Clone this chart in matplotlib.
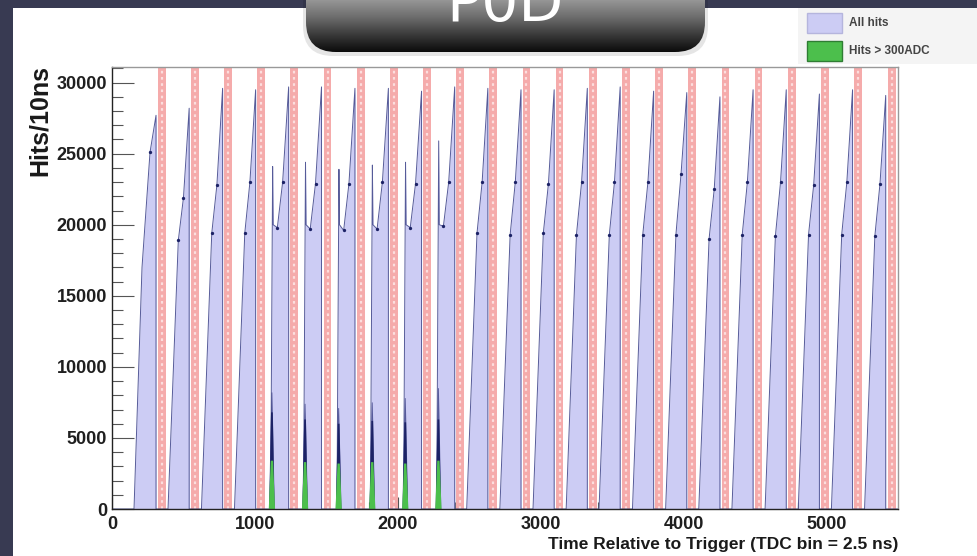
"""
P0D hit timing plot: all hits vs hits above 300 ADC, with bunch-gap bands.
"""

import matplotlib

matplotlib.use("Agg")
import matplotlib.pyplot as plt
import numpy as np
from matplotlib.colors import LinearSegmentedColormap
from matplotlib.patches import FancyBboxPatch, Rectangle
from matplotlib.ticker import MultipleLocator

W, H = 977, 556

# ---- values (x in TDC bins, y in hits/10ns) ----
series_names = ["All hits", "Hits > 300ADC"]

peak_x = [308, 540, 774, 1005, 1236, 1466, 1700, 1934, 2166, 2398, 2630, 2862,
          3094, 3326, 3556, 3790, 4022, 4254, 4486, 4718, 4950, 5182, 5414]
peak_y = [27700, 28200, 29600, 29500, 29700, 29700, 29600, 29600, 29400, 29700,
          29600, 29500, 29500, 29600, 29700, 29400, 29300, 29000, 29500, 29500,
          29200, 29500, 29100]
kink1_y = [17000, 18900, 19400, 19400, 19800, 19700, 19600, 19700, 19800, 19900,
           19400, 19300, 19400, 19300, 19300, 19300, 19300, 19000, 19300, 19200,
           19300, 19300, 19200]
kink2_y = [25100, 21900, 22800, 23000, 23000, 22900, 22900, 23000, 22900, 23000,
           23000, 23000, 22900, 23000, 23000, 23000, 23600, 22500, 23000, 23000,
           22800, 23000, 22900]

# cycles that open with a sharp spike (index into the lists above)
spike_cycles = [4, 5, 6, 7, 8, 9]
spike_y = [24100, 24400, 23900, 24200, 24400, 25900]

# shape of one bunch train (offsets from the peak, TDC bins)
first_dx = [-154, -98, -42, 0]
normal_dx = [-148, -76, -40, 0]
spike_dx = [-126, -112, -108, -79, -42, 0]

# hits > 300 ADC spikes
green_x = [1119, 1351, 1586, 1821, 2052, 2284]
green_y = [3400, 3300, 3200, 3300, 3200, 3400]
navy_y = [8200, 7400, 7100, 7500, 7800, 8500]
navy_core_y = [6800, 6300, 6000, 6200, 6100, 6300]

# red bunch-gap markers
band_x = [348, 580, 812, 1044, 1276, 1508, 1740, 1972, 2204, 2436, 2668, 2900,
          3132, 3364, 3596, 3828, 4060, 4292, 4524, 4756, 4988, 5220, 5456]

xtick_step, ytick_step = 1000, 5000

FILL = "#ccccf4"
LINE = "#565b99"
GREEN = "#4cbf4c"
NAVY = "#1c2266"
BAND = "#f5abab"
FONT = "Liberation Sans"


def build_hist():
    xs, ys, dots_x, dots_y = [0], [0], [], []
    for i, (px, py) in enumerate(zip(peak_x, peak_y)):
        if i == 0:
            dx = first_dx
            vals = [0, kink1_y[i], kink2_y[i], py]
            dots = [2]
        elif i in spike_cycles:
            s = spike_y[spike_cycles.index(i)]
            dx = spike_dx
            vals = [0, s, 20000, kink1_y[i], kink2_y[i], py]
            dots = [3, 4]
        else:
            dx = normal_dx
            vals = [0, kink1_y[i], kink2_y[i], py]
            dots = [1, 2]
        for d, v in zip(dx, vals):
            xs.append(px + d)
            ys.append(v)
        xs.append(px)
        ys.append(0)
        dots_x += [px + dx[k] for k in dots]
        dots_y += [vals[k] for k in dots]
    xs.append(5500)
    ys.append(0)
    return np.array(xs), np.array(ys), dots_x, dots_y


def main():
    plt.rcParams["font.family"] = [FONT, "DejaVu Sans"]
    fig = plt.figure(figsize=(W / 100, H / 100), dpi=100)
    fig.patch.set_facecolor("#383a52")

    # background: slide frame + white page
    bg = fig.add_axes([0, 0, 1, 1], zorder=0)
    bg.set_xlim(0, W)
    bg.set_ylim(H, 0)
    bg.axis("off")
    bg.add_patch(Rectangle((13, 8), W - 13, H - 8, facecolor="white", edgecolor="none"))
    bg.add_patch(Rectangle((798, 8), W - 798, 56, facecolor="#f4f4f4", edgecolor="none"))

    # legend
    leg_colors = [(FILL, "#b5b5dd"), (GREEN, "#2f7d33")]
    for k, (name, (fc, ec)) in enumerate(zip(series_names, leg_colors)):
        y0 = 13 + k * 28
        bg.add_patch(Rectangle((807, y0), 35, 20, facecolor=fc, edgecolor=ec, lw=1))
        bg.text(849, y0 + 10.5, name, fontsize=8.5, weight="bold", color="#444444",
                ha="left", va="center")

    # main axes
    ax = fig.add_axes([112 / W, 1 - 509 / H, (898 - 112) / W, (509 - 67) / H], zorder=2)
    ax.set_facecolor("white")
    ax.set_xlim(0, 5500)
    ax.set_ylim(0, 31100)
    ax.set_axisbelow(True)

    for bx in band_x:
        ax.axvspan(bx - 27, bx + 27, color=BAND, lw=0, zorder=3)
        ax.axvline(bx, color="#fcdede", lw=1.6, ls=(0, (1.2, 1.6)), zorder=3.1)

    xs, ys, dx, dy = build_hist()
    ax.fill_between(xs, ys, color=FILL, lw=0, zorder=4)
    ax.plot(xs, ys, color=LINE, lw=0.7, zorder=5)
    ax.plot(dx, dy, "o", color=NAVY, ms=2.4, mew=0, zorder=6)

    for gx, gy, ny, nc in zip(green_x, green_y, navy_y, navy_core_y):
        ax.fill([gx - 20, gx - 7, gx - 3, gx + 3, gx + 7, gx + 20],
                [0, 0.8 * ny, ny, ny, 0.8 * ny, 0],
                color="#3a3f85", lw=0, alpha=0.8, zorder=6)
        ax.fill([gx - 18, gx - 6, gx + 6, gx + 18], [0, nc, nc, 0],
                color=NAVY, lw=0, zorder=6.5)
        ax.fill([gx - 22, gx - 8, gx + 8, gx + 22], [0, gy, gy, 0],
                color=GREEN, lw=0, zorder=7)

    ax.xaxis.set_major_locator(MultipleLocator(xtick_step))
    ax.xaxis.set_minor_locator(MultipleLocator(200))
    ax.yaxis.set_major_locator(MultipleLocator(ytick_step))
    ax.yaxis.set_minor_locator(MultipleLocator(1000))
    ax.tick_params(axis="y", which="major", direction="in", length=16, width=0.8,
                   color="#555555", pad=3.6)
    ax.tick_params(axis="y", which="minor", direction="in", length=8, width=0.8,
                   color="#555555")
    ax.tick_params(axis="x", which="major", direction="in", length=9, width=0.8,
                   color="#555555", pad=5)
    ax.tick_params(axis="x", which="minor", direction="in", length=5, width=0.8,
                   color="#555555")
    ax.tick_params(which="both", top=False, right=False)
    for lab in ax.get_xticklabels() + ax.get_yticklabels():
        lab.set_fontsize(13)
        lab.set_fontweight("bold")
        lab.set_color("#1f1f1f")

    for side in ("left", "bottom"):
        ax.spines[side].set_color("#222222")
        ax.spines[side].set_linewidth(1.0)
    for side in ("top", "right"):
        ax.spines[side].set_color("#999999")
        ax.spines[side].set_linewidth(1.0)
    for sp in ax.spines.values():
        sp.set_zorder(8)

    fig.text(40 / W, 1 - 65 / H, "Hits/10ns", rotation=90, ha="center", va="top",
             fontsize=18, weight="bold", color="#1a1a1a")
    fig.text(898 / W, 1 - 545 / H, "Time Relative to Trigger (TDC bin = 2.5 ns)",
             ha="right", va="center", fontsize=12.5, weight="bold", color="#1a1a1a")

    # P0D title tab (cut off at the top of the slide, as in the original)
    ov = fig.add_axes([0, 0, 1, 1], zorder=10)
    ov.set_xlim(0, W)
    ov.set_ylim(H, 0)
    ov.axis("off")
    ov.add_patch(FancyBboxPatch((303, -40), 405, 96, boxstyle="round,pad=0,rounding_size=30",
                                facecolor="black", edgecolor="none", alpha=0.10))
    box = FancyBboxPatch((306, -40), 399, 92, boxstyle="round,pad=0,rounding_size=30",
                         facecolor="none", edgecolor="none")
    ov.add_patch(box)
    cmap = LinearSegmentedColormap.from_list("tab", ["#969696", "#6c6c6c", "#3a3a3a", "#0b0b0b"])
    im = ov.imshow(np.linspace(0, 1, 200).reshape(-1, 1), extent=(306, 705, 52, 0),
                   cmap=cmap, aspect="auto", zorder=2)
    im.set_clip_path(box)
    ov.text(505, 21, "P0D", color="white", fontsize=42, ha="center", va="baseline",
            family="DejaVu Sans", zorder=3)
    ov.set_xlim(0, W)
    ov.set_ylim(H, 0)

    fig.savefig("out.png", dpi=100)
    plt.close(fig)


if __name__ == "__main__":
    main()
